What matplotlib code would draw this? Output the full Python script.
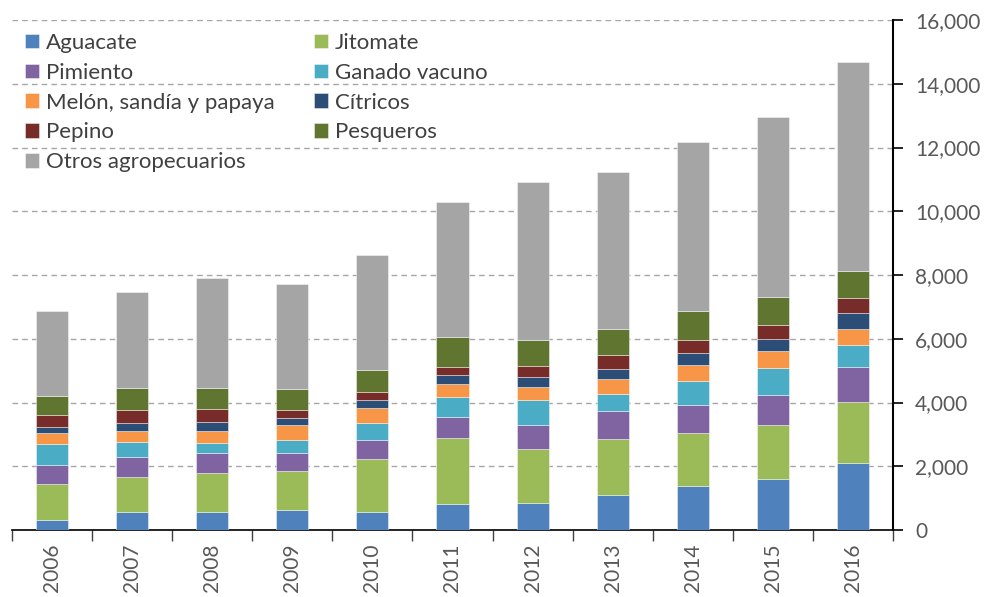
import matplotlib
matplotlib.use("Agg")
import matplotlib.pyplot as plt
import numpy as np
from matplotlib.ticker import FuncFormatter, FixedLocator

years = ["2006", "2007", "2008", "2009", "2010", "2011", "2012", "2013", "2014", "2015", "2016"]

aguacate = [316, 579, 579, 639, 576, 827, 858, 1098, 1381, 1611, 2092]
jitomate = [1137, 1085, 1211, 1214, 1654, 2073, 1684, 1768, 1652, 1684, 1935]
pimiento = [579, 621, 621, 555, 597, 649, 763, 858, 879, 931, 1098]
ganado = [653, 474, 316, 402, 544, 629, 764, 554, 774, 868, 670]
melon = [348, 347, 390, 482, 461, 397, 429, 471, 481, 523, 523]
citricos = [210, 253, 263, 209, 262, 273, 293, 314, 377, 387, 481]
pepino = [379, 411, 432, 251, 251, 251, 355, 418, 418, 439, 471]
pesqueros = [580, 684, 642, 681, 660, 942, 816, 826, 921, 879, 868]
otros = [2674, 3001, 3450, 3298, 3612, 4250, 4948, 4938, 5290, 5648, 6537]

series_names = ["Aguacate", "Jitomate", "Pimiento", "Ganado vacuno",
                "Melón, sandía y papaya", "Cítricos", "Pepino", "Pesqueros",
                "Otros agropecuarios"]
series_values = [aguacate, jitomate, pimiento, ganado, melon, citricos, pepino, pesqueros, otros]
colors = ["#4F81BD", "#9BBB59", "#8064A2", "#4BACC6", "#F79646",
          "#2C4D75", "#772C2A", "#5F7530", "#A5A5A5"]

plt.rcParams['font.family'] = ['Lato', 'DejaVu Sans']

fig = plt.figure(figsize=(9.84, 5.97), dpi=100)
ax = fig.add_axes([0.0122, 0.1122, 0.8953, 0.8543])

x = np.arange(len(years))
bottom = np.zeros(len(years))
handles = []
for name, vals, c in zip(series_names, series_values, colors):
    vals = np.array(vals, dtype=float)
    b = ax.bar(x, vals, 0.4, bottom=bottom, color=c, edgecolor=(1, 1, 1, 0.5),
               linewidth=0.6, label=name, zorder=3)
    handles.append(b)
    bottom += vals

ax.set_xlim(-0.5, len(years) - 0.5)
ax.set_ylim(0, 16000)
ax.yaxis.tick_right()
ax.set_yticks(np.arange(0, 16001, 2000))
ax.yaxis.set_major_formatter(FuncFormatter(lambda v, p: f"{int(v):,}"))
ax.tick_params(axis='y', which='major', direction='out', length=7, width=1.2,
               colors='black', labelcolor='#595959', labelsize=15, pad=9)
ax.grid(axis='y', color='#A6A6A6', linestyle=(0, (4, 3)), linewidth=1, zorder=0)

ax.set_xticks(x)
ax.set_xticklabels(years, rotation=90)
ax.xaxis.set_minor_locator(FixedLocator(np.arange(-0.5, len(years), 1.0)))
ax.tick_params(axis='x', which='major', length=0, labelcolor='#595959', labelsize=15, pad=10)
ax.tick_params(axis='x', which='minor', length=8, width=1, color='#404040', direction='out')

for s in ['top', 'left']:
    ax.spines[s].set_visible(False)
ax.spines['right'].set_color('black')
ax.spines['right'].set_linewidth(1.5)
ax.spines['bottom'].set_color('black')
ax.spines['bottom'].set_linewidth(1.2)

# row-major legend order: left column / right column
order = [0, 2, 4, 6, 8, 1, 3, 5, 7]
leg = fig.legend(handles=[handles[i] for i in order], ncol=2, loc='upper left',
                 bbox_to_anchor=(25 / 984, 1 - 33 / 597), borderpad=0, borderaxespad=0,
                 frameon=False, fontsize=16, handlelength=0.63, handleheight=0.63,
                 handletextpad=0.3, columnspacing=1.8, labelspacing=0.44,
                 labelcolor='#404040')

fig.savefig("out.png", dpi=100)
